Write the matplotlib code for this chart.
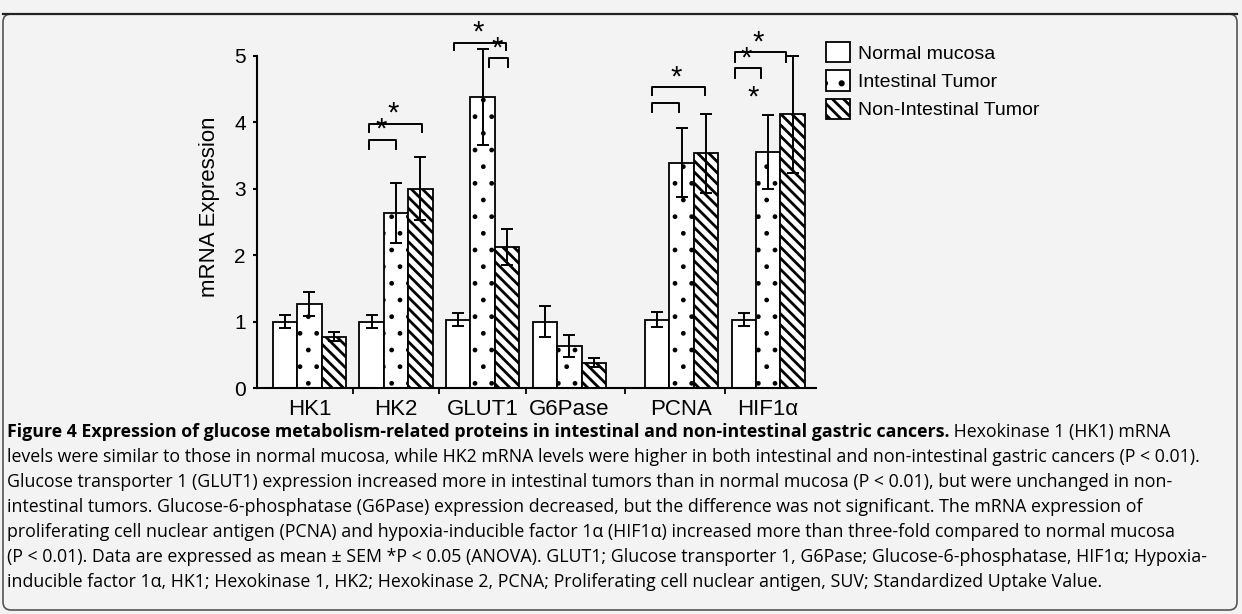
import numpy as np
import matplotlib.pyplot as plt
from matplotlib.patches import Patch, FancyBboxPatch
from matplotlib.lines import Line2D
from matplotlib.transforms import Affine2D

genes = ['HK1', 'HK2', 'GLUT1', 'G6Pase', 'PCNA', 'HIF1α']
tissue = ['Normal mucosa', 'Intestinal Tumor', 'Non-Intestinal Tumor']

normal = [1.00, 1.00, 1.03, 1.00, 1.03, 1.03]
normal_err = [0.10, 0.10, 0.10, 0.23, 0.11, 0.10]
intestinal = [1.27, 2.63, 4.38, 0.63, 3.39, 3.55]
intestinal_err = [0.18, 0.45, 0.72, 0.16, 0.52, 0.56]
non_intestinal = [0.77, 3.00, 2.12, 0.38, 3.53, 4.12]
non_intestinal_err = [0.07, 0.48, 0.27, 0.07, 0.59, 0.88]

# significance brackets: gene, from bar, to bar, height, leg, star shown
brackets = [
    (1, -0.10, 1.00, 3.73, 0.14, True),
    (1, -0.10, 2.05, 3.97, 0.12, True),
    (2, -0.18, 1.95, 5.19, 0.10, True),
    (2, 1.27, 2.05, 4.96, 0.13, True),
    (4, -0.20, 1.95, 4.52, 0.11, True),
    (4, -0.20, 0.90, 4.28, 0.13, False),
    (5, -0.37, 1.72, 5.05, 0.14, True),
    (5, -0.37, 0.70, 4.81, 0.15, True),
]
lone_star = (5, 0.37, 4.38)

caption_bold = ('Figure 4 Expression of glucose metabolism-related proteins '
                'in intestinal and non-intestinal gastric cancers.')
caption_first = ' Hexokinase 1 (HK1) mRNA'
caption_lines = [
    'levels were similar to those in normal mucosa, while HK2 mRNA levels were higher in both intestinal and non-intestinal gastric cancers (P < 0.01).',
    'Glucose transporter 1 (GLUT1) expression increased more in intestinal tumors than in normal mucosa (P < 0.01), but were unchanged in non-',
    'intestinal tumors. Glucose-6-phosphatase (G6Pase) expression decreased, but the difference was not significant. The mRNA expression of',
    'proliferating cell nuclear antigen (PCNA) and hypoxia-inducible factor 1α (HIF1α) increased more than three-fold compared to normal mucosa',
    '(P < 0.01). Data are expressed as mean ± SEM *P < 0.05 (ANOVA). GLUT1; Glucose transporter 1, G6Pase; Glucose-6-phosphatase, HIF1α; Hypoxia-',
    'inducible factor 1α, HK1; Hexokinase 1, HK2; Hexokinase 2, PCNA; Proliferating cell nuclear antigen, SUV; Standardized Uptake Value.',
]

W, H = 1242, 614
plt.rcParams['font.family'] = ['Liberation Sans', 'DejaVu Sans']

fig = plt.figure(figsize=(W / 100, H / 100), dpi=100, facecolor='#f3f3f3')
px = Affine2D().scale(1 / W, -1 / H).translate(0, 1) + fig.transFigure

ax = fig.add_axes([257 / W, (H - 388) / H, (816 - 257) / W, (388 - 25.6) / H])
ax.set_facecolor('none')

step, extra = 3.55, 1.05
idx = np.arange(len(genes))
centers = idx * step + np.where(idx >= 4, extra, 0.0)

# hatch pattern and hatch line width per series
series = [(normal, normal_err, '', 1.0), (intestinal, intestinal_err, '.', 1.0),
          (non_intestinal, non_intestinal_err, '\\\\\\', 2.0)]
for k, (vals, errs, hatch, hlw) in enumerate(series):
    plt.rcParams['hatch.linewidth'] = hlw
    xs = centers + (k - 1)
    ax.bar(xs, vals, width=1.0, facecolor='white', edgecolor='black',
           linewidth=1.3, hatch=hatch, zorder=2)
    ax.errorbar(xs, vals, yerr=errs, fmt='none', ecolor='black', elinewidth=1.4,
                capsize=4.5, capthick=1.4, zorder=3)

for g, a, b, y, leg, star in brackets:
    x0 = centers[g] - 1 + a
    x1 = centers[g] - 1 + b
    ax.plot([x0, x0, x1, x1], [y - leg, y, y, y - leg], color='black', lw=1.4,
            clip_on=False, zorder=4)
    if star:
        ax.text((x0 + x1) / 2 - 0.08, y - 0.06, '*', ha='center', va='bottom',
                fontsize=21, zorder=5)
g, a, y = lone_star
ax.text(centers[g] - 1 + a, y - 0.22, '*', ha='center', va='bottom', fontsize=21)

ax.set_xlim(-2.15, 20.76)
ax.set_ylim(0, 5.45)
ax.spines[['top', 'right']].set_visible(False)
ax.spines['left'].set_bounds(0, 5)
ax.spines['left'].set_linewidth(1.5)
ax.spines['bottom'].set_linewidth(1.5)
ax.set_yticks(range(6))
ax.tick_params(axis='y', length=3, width=1.5, pad=5, labelsize=15)
ax.set_xticks(centers)
ax.set_xticklabels(genes)
ax.set_xticks((centers[:-1] + centers[1:]) / 2, minor=True)
ax.tick_params(axis='x', which='major', length=0, pad=8, labelsize=16)
ax.tick_params(axis='x', which='minor', length=4, width=1.3)
ax.set_ylabel('mRNA Expression', fontsize=16, labelpad=10)

handles = []
for _, _, h, hlw in series:
    plt.rcParams['hatch.linewidth'] = hlw
    handles.append(Patch(facecolor='white', edgecolor='black', hatch=h, lw=1.3))
ax.legend(handles, tissue, loc='upper left', bbox_to_anchor=(826 / W, 1 - 42 / H),
          bbox_transform=fig.transFigure, frameon=False, fontsize=14,
          borderpad=0, borderaxespad=0, handlelength=1.23, handleheight=1.23,
          labelspacing=0.39, handletextpad=0.4)

# page frame and rule
fig.add_artist(Line2D([3, 1237], [14, 14], transform=px, color='#222222', lw=1.6))
fig.add_artist(FancyBboxPatch((3, 14), 1234, 596, boxstyle='round,pad=0,rounding_size=8',
                              transform=px, fill=False, ec='#555555', lw=1.2))

# caption, sized so the long lines fill the box width
renderer = fig.canvas.get_renderer()
probe = fig.text(0, 0, caption_lines[0], fontsize=12, family='Open Sans')
cap_size = 12 * 1190 / probe.get_window_extent(renderer).width
probe.remove()

x0, y0, dy = 7, 432, 25
t = fig.text(x0, y0, caption_bold, transform=px, fontsize=cap_size,
             family='Open Sans', weight='bold', va='center')
bb = t.get_window_extent(renderer)
fig.text(bb.x1 / W, 1 - y0 / H, caption_first, fontsize=cap_size,
         family='Open Sans', va='center')
for i, line in enumerate(caption_lines):
    fig.text(x0, y0 + dy * (i + 1), line, transform=px, fontsize=cap_size,
             family='Open Sans', va='center')

fig.savefig('out.png', dpi=100, facecolor=fig.get_facecolor())
